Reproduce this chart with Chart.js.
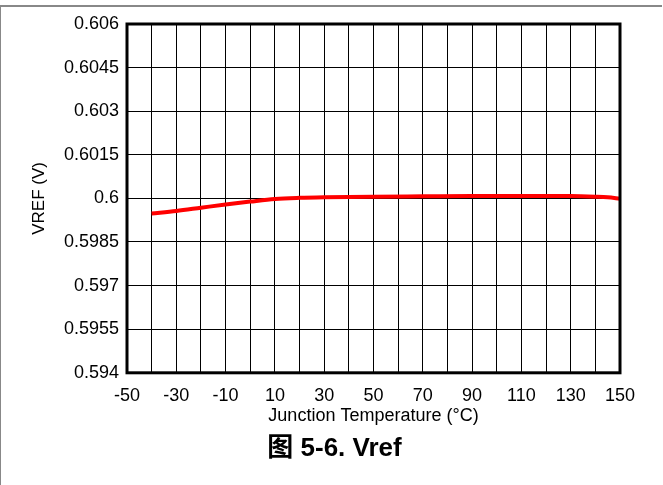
<!DOCTYPE html>
<html>
<head>
<meta charset="utf-8">
<script src="https://cdn.jsdelivr.net/npm/chart.js@4"></script>
<style>
  html, body { margin: 0; padding: 0; background: #fff; }
  #wrap { position: relative; width: 663px; height: 485px; }
  #frame { position: absolute; left: 0; top: 5px; width: 662px; height: 480px;
           border-top: 2px solid #888; border-left: 1px solid #888; box-sizing: border-box; pointer-events: none; }
</style>
</head>
<body>
<div id="wrap">
  <canvas id="c" width="663" height="485"></canvas>
  <div id="frame"></div>
</div>
<script>
// Vref vs junction temperature
const temps = [-40, -30, -20, -10, 0, 10, 20, 30, 50, 70, 90, 110, 130, 140, 145, 150];
const vref  = [0.59948, 0.59957, 0.59968, 0.59979, 0.59989, 0.59998, 0.60002, 0.60004, 0.60006,
               0.60007, 0.60008, 0.60008, 0.60008, 0.60006, 0.60004, 0.59999];
const xTickLabels = ["-50", "-30", "-10", "10", "30", "50", "70", "90", "110", "130", "150"];
const yTickLabels = ["0.594", "0.5955", "0.597", "0.5985", "0.6", "0.6015", "0.603", "0.6045", "0.606"];

const FONT = "'Liberation Sans', Arial, Helvetica, sans-serif";

const frame = {
  id: "frame",
  afterDatasetsDraw(chart) {
    const { ctx, chartArea: a } = chart;
    ctx.save();
    ctx.strokeStyle = "#000";
    ctx.lineWidth = 3;
    ctx.strokeRect(a.left, a.top, a.right - a.left, a.bottom - a.top);
    ctx.restore();
  }
};

new Chart(document.getElementById("c"), {
  type: "line",
  data: {
    datasets: [{
      data: temps.map((t, i) => ({ x: t, y: vref[i] })),
      borderColor: "#ff0000",
      borderWidth: 4,
      pointRadius: 0,
      cubicInterpolationMode: "monotone",
      fill: false
    }]
  },
  plugins: [frame],
  options: {
    responsive: false,
    animation: false,
    // left padding keeps the caption centred like the original
    layout: { padding: { top: 24, right: 43, left: 49, bottom: 0 } },
    plugins: {
      legend: { display: false },
      tooltip: { enabled: false },
      title: {
        display: true,
        position: "bottom",
        text: "图 5-6. Vref",
        color: "#000",
        font: { family: FONT + ", 'Noto Sans CJK SC'", size: 26, weight: "bold" },
        padding: { top: 6, bottom: 21 }
      }
    },
    scales: {
      x: {
        type: "linear",
        min: -50, max: 150,
        afterBuildTicks(s) { s.ticks = []; for (let v = -50; v <= 150; v += 10) s.ticks.push({ value: v }); },
        afterFit(s) { s.height = 54; },
        ticks: {
          autoSkip: false, maxRotation: 0, color: "#000", padding: 12,
          font: { family: FONT, size: 18 },
          callback: (v) => ((v + 50) % 20 === 0 ? xTickLabels[(v + 50) / 20] : "")
        },
        grid: { color: "#000", lineWidth: 1, drawTicks: false },
        border: { display: false },
        title: { display: true, text: "Junction Temperature (°C)", color: "#000",
                 font: { family: FONT, size: 18 }, padding: { top: 0, bottom: 0 } }
      },
      y: {
        type: "linear",
        min: 0.594, max: 0.606,
        afterBuildTicks(s) { s.ticks = yTickLabels.map(l => ({ value: parseFloat(l) })); },
        afterFit(s) { s.width = 78; },
        ticks: {
          autoSkip: false, color: "#000", padding: 8,
          font: { family: FONT, size: 18 },
          callback: (v, i) => yTickLabels[i]
        },
        grid: { color: "#000", lineWidth: 1, drawTicks: false },
        border: { display: false },
        title: { display: true, text: "VREF (V)", color: "#000",
                 font: { family: FONT, size: 17 }, padding: { top: -20, bottom: 0 } }
      }
    }
  }
});
</script>
</body>
</html>
